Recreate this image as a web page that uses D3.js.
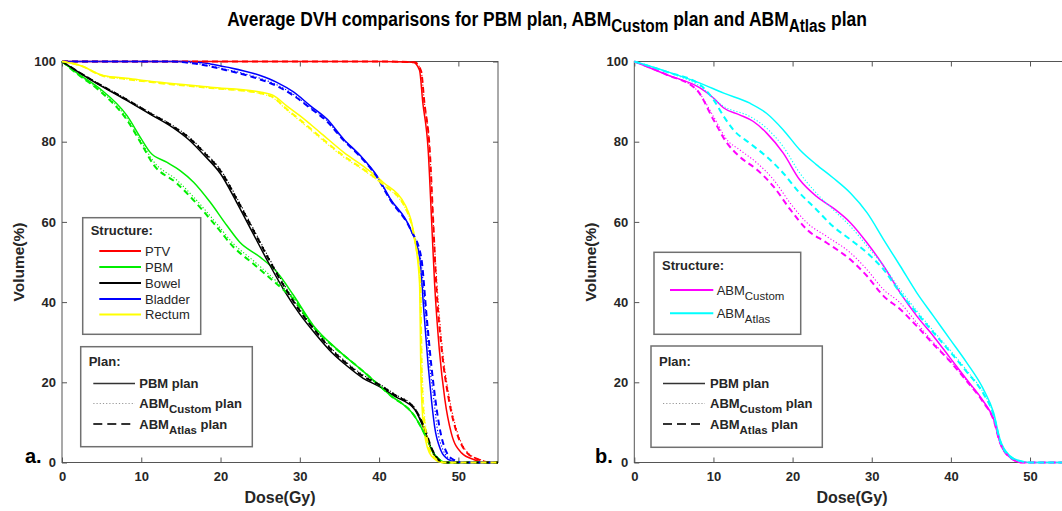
<!DOCTYPE html>
<html>
<head>
<meta charset="utf-8">
<script src="https://cdn.jsdelivr.net/npm/d3@7"></script>
<style>
  body { margin: 0; background: #fff; }
  text { font-family: "Liberation Sans", Arial, sans-serif; fill: #262626; }
</style>
</head>
<body>
<svg id="chart" width="1062" height="511"></svg>
<script>
// ---- data: [dose (Gy), volume (%)] ----
const doseTicks = [0, 10, 20, 30, 40, 50];
const volTicks = [0, 20, 40, 60, 80, 100];

// panel a: PTV
const ptvPBM = [[0,100],[40,100],[44.3,99.8],[45.1,97.8],[45.5,90],[46.2,77.6],[46.6,61.3],[47,44.7],[47.6,28.1],[48.3,15.7],[49.1,7.4],[50.4,2.4],[52,0.7],[53.5,0],[55,0]];
const ptvCustom = [[0,100],[40,100],[44.5,99.8],[45.3,97.6],[45.7,90],[46.4,77.6],[46.8,61.3],[47.3,44.7],[48,28.1],[48.9,15.7],[49.9,7.4],[51.2,2.4],[52.8,0.7],[54.3,0],[55,0]];
const ptvAtlas = [[0,100],[40,100],[44.5,99.8],[45.3,97.6],[45.7,90],[46.4,77.6],[46.8,61.3],[47.2,44.7],[47.9,28.1],[48.8,15.7],[49.8,7.4],[51.1,2.4],[52.6,0.7],[54,0],[55,0]];
// panel a: PBM
const pbmPBM = [[0,100],[2,97],[4.8,93.2],[8.2,86.5],[10,80.7],[11.1,77.4],[13.2,74.9],[14.9,72.8],[16.6,69.9],[18.7,64.9],[20.8,59.1],[22.4,55],[25,51.2],[27.1,47.5],[29.2,41.7],[31.7,34.2],[34.6,28.4],[37.6,23.4],[41.4,16.8],[44.5,11.5],[45.9,6.5],[47,2],[48.5,0],[55,0]];
const pbmCustom = [[0,100],[2,96.8],[4.8,92.8],[8.2,85.8],[10,80],[11.5,75.2],[14.5,70.4],[16.6,66.2],[19.5,59.6],[21.6,54.6],[24.1,50.4],[27.5,44.4],[29.2,41.2],[31.7,34],[34.6,28.4],[37.6,23.4],[41.4,16.8],[44.5,11.5],[45.9,6.5],[47,2],[48.5,0],[55,0]];
const pbmAtlas = [[0,100],[2,96.8],[4.8,92.6],[8.2,85.4],[10,79.5],[11.5,74.4],[14.5,69.6],[16.6,65.4],[19.5,58.8],[21.6,53.8],[24.1,49.6],[27.5,43.8],[29.2,40.8],[31.7,33.8],[34.6,28.3],[37.6,23.4],[41.4,16.8],[44.5,11.5],[45.9,6.5],[47,2],[48.5,0],[55,0]];
// panel a: Bowel
const bowelPBM = [[0,100],[4,95],[8,90.5],[11,87],[14,83.5],[16,80.5],[18,76.5],[20,72],[22,65],[24,57.5],[26,50],[28,43],[30,37],[32,32],[34,27.5],[36,24],[38,21],[40,19],[42,16.5],[44.5,13.2],[45.7,8.2],[46.6,3.2],[47.4,0.7],[48,0],[55,0]];
const bowelCustom = [[0,100],[4,95.2],[8,90.8],[11,87.4],[14,84],[16,81.2],[18,77.4],[20,73],[22,66.2],[24,58.8],[26,51.4],[28,44.4],[30,38.2],[32,33],[34,28.4],[36,24.8],[38,21.8],[40,19.6],[42,17],[44.5,13.6],[45.8,8.2],[46.7,3.2],[47.5,0.7],[48.2,0],[55,0]];
const bowelAtlas = [[0,100],[4,95.1],[8,90.7],[11,87.2],[14,83.8],[16,81],[18,77.1],[20,72.7],[22,65.8],[24,58.4],[26,51],[28,44],[30,37.8],[32,32.7],[34,28.1],[36,24.5],[38,21.5],[40,19.4],[42,16.8],[44.5,13.4],[45.8,8.2],[46.7,3.2],[47.5,0.7],[48.2,0],[55,0]];
// panel a: Bladder
const bladderPBM = [[0,100],[15.8,100],[18.7,99.4],[20.8,98.6],[25,96.5],[27.1,94.8],[29.2,92.4],[31.3,89],[33.4,85.7],[35.5,80.7],[37.6,76.6],[39.7,71.6],[41.4,65.8],[44,58],[45.1,51.3],[45.7,36.4],[46.2,24],[46.6,15.7],[47,9],[47.8,3],[48.7,0.8],[50,0],[55,0]];
const bladderCustom = [[0,100],[14,100],[17,99.5],[20.8,98],[25,95.8],[27.1,94.2],[29.2,91.8],[31.3,88.6],[33.4,85.3],[35.5,80.5],[37.6,76.4],[39.7,71.4],[41.4,65.6],[44,58],[45.2,51.3],[45.9,36.4],[46.4,24],[46.9,15.7],[47.3,9],[48.1,3],[49,0.8],[50.3,0],[55,0]];
const bladderAtlas = [[0,100],[14,100],[17,99.4],[20.8,97.8],[25,95.5],[27.1,93.9],[29.2,91.5],[31.3,88.4],[33.4,85.1],[35.5,80.4],[37.6,76.3],[39.7,71.3],[41.4,65.5],[44,58],[45.3,51.3],[46,36.4],[46.6,24],[47.1,15.7],[47.6,9],[48.4,3],[49.3,0.8],[50.6,0],[55,0]];
// panel a: Rectum
const rectumPBM = [[0,100],[2.3,99],[5.2,96.5],[8.2,95.8],[12.4,94.8],[18.7,93.6],[25,92.4],[26.7,91.5],[28.3,89],[30,86.5],[32.5,82.4],[35.5,77.4],[38.4,73.3],[40.5,69.9],[43.4,63.8],[44.5,55.5],[45.1,44.7],[45.3,19.8],[45.7,7.4],[46.6,1.6],[48,0],[55,0]];
const rectumCustom = [[0,100],[2.3,99],[5.2,96.4],[8.2,95.6],[12.4,94.6],[18.7,93.4],[25,92],[26.7,90.8],[28.3,88],[30,85.2],[32.5,81],[35.5,76.2],[38.4,72.4],[40.5,69.2],[43.4,63],[44.5,55.5],[45.2,44.7],[45.5,19.8],[46,7.4],[46.9,1.6],[48.3,0],[55,0]];
const rectumAtlas = [[0,100],[2.3,99],[5.2,96.4],[8.2,95.6],[12.4,94.6],[18.7,93.4],[25,92.1],[26.7,91],[28.3,88.2],[30,85.5],[32.5,81.3],[35.5,76.5],[38.4,72.6],[40.5,69.4],[43.4,63.2],[44.5,55.5],[45.2,44.7],[45.4,19.8],[45.9,7.4],[46.8,1.6],[48.2,0],[55,0]];

// panel b: ABM Custom structure
const custPBM = [[0,100],[4.1,96.7],[8.3,93.4],[10,90.9],[11.3,88.4],[13.3,86.7],[15,85.1],[16.7,82.2],[18.8,77.2],[20.9,70.5],[23,66.4],[25.1,63.5],[27.3,59.8],[29.4,54.8],[31.5,49],[33.6,42.3],[35.7,36.5],[37.8,31.5],[39.9,26.1],[42,20.7],[44.1,15.3],[45.4,10.8],[46.2,5],[47.5,1.2],[49,0],[55,0]];
const custCustom = [[0,100],[4.1,96.7],[7.9,92.9],[10,86.3],[11.7,80.5],[13.3,78],[15.5,74.7],[17.6,70.5],[19.7,64.7],[21.8,59.8],[24.3,56.4],[27.3,52.3],[29.4,48.1],[31.5,43.1],[33.6,39.8],[35.7,34.8],[37.8,29.9],[39.9,25.4],[42,20.4],[44.1,15.1],[45.4,10.6],[46.2,5],[47.5,1.2],[49,0],[55,0]];
const custAtlas = [[0,100],[4.1,96.7],[7.9,92.9],[10,85.5],[11.7,79.7],[13.3,76.3],[15.5,73],[17.6,68.8],[19.7,63.1],[21.8,58.1],[24.3,54.8],[27.3,50.6],[29.4,46.5],[31.5,41.5],[33.6,38.2],[35.7,34],[37.8,29.5],[39.9,25.2],[42,20.3],[44.1,15],[45.4,10.6],[46.2,5],[47.5,1.2],[49,0],[55,0]];
// panel b: ABM Atlas structure
const atlasPBM = [[0,100],[4.1,97.5],[8.3,94.6],[11.3,92.1],[14.6,89.6],[16.7,87.1],[18.8,83],[20.9,78],[23,74.3],[25.1,71],[27.3,67.2],[29.4,62.3],[31.5,55.6],[33.6,49],[35.7,42.3],[37.8,36.5],[39.9,30.7],[42,24.9],[44.1,18.3],[45.4,12.4],[46.2,5.8],[47.5,1.6],[48.7,0.4],[50,0],[55,0]];
const atlasCustom = [[0,100],[4.1,97.4],[8.3,93.8],[11.3,88.8],[14.6,86.3],[16.7,83.4],[18.8,78.8],[20.9,72.2],[23,67.2],[25.1,63.1],[27.3,58.9],[29.4,54],[31.5,49],[33.6,43.1],[35.7,37.8],[37.8,32.8],[39.9,28],[42,23],[44.1,17.4],[45.4,12],[46.2,5.6],[47.5,1.5],[48.7,0.4],[50,0],[55,0]];
const atlasAtlas = [[0,100],[4.1,97.4],[8.3,94.2],[10,90.5],[11.3,86.3],[12.5,83],[14.6,79.6],[16.7,76.3],[18.8,72.2],[20.9,67.2],[23,63.1],[25.1,58.9],[27.3,55.6],[29.4,52.3],[31.5,48.1],[33.6,42.3],[35.7,37.3],[37.8,32.4],[39.9,27.6],[42,22.6],[44.1,17.2],[45.4,11.8],[46.2,5.5],[47.5,1.4],[48.7,0.4],[50,0],[55,0]];

// ---- layout ----
const svg = d3.select("#chart");
const plotTop = 61.5, plotBottom = 462.5;

const planStyle = {
  pbm:    { dash: null,     width: 1.5 },
  custom: { dash: "1.2,2",  width: 1.1 },
  atlas:  { dash: "6,4",    width: 2 }
};

const panels = [
  {
    left: 62, right: 498, tag: "a.", tagX: 25,
    series: [
      { color: "#ff0000", pbm: ptvPBM, custom: ptvCustom, atlas: ptvAtlas },
      { color: "#00ee00", pbm: pbmPBM, custom: pbmCustom, atlas: pbmAtlas },
      { color: "#000000", pbm: bowelPBM, custom: bowelCustom, atlas: bowelAtlas },
      { color: "#0000ff", pbm: bladderPBM, custom: bladderCustom, atlas: bladderAtlas },
      { color: "#ffff00", pbm: rectumPBM, custom: rectumCustom, atlas: rectumAtlas }
    ]
  },
  {
    left: 634.3, right: 1069.6, tag: "b.", tagX: 595,
    series: [
      { color: "#ff00ff", pbm: custPBM, custom: custCustom, atlas: custAtlas },
      { color: "#00ffff", pbm: atlasPBM, custom: atlasCustom, atlas: atlasAtlas }
    ]
  }
];

// title with subscripts (narrowed horizontally to mimic a condensed face)
const titleG = svg.append("g");
const title = titleG.append("text")
  .attr("x", 0).attr("y", 26)
  .attr("text-anchor", "middle")
  .style("font-weight", "bold")
  .style("font-size", "20px")
  .style("fill", "#000");
richText(title, [["Average DVH comparisons for PBM plan, ABM"], ["Custom", 1], [" plan and ABM"], ["Atlas", 1], [" plan"]], 6);
const titleLen = title.node().getComputedTextLength();
titleG.attr("transform", `translate(547,0) scale(${640 / titleLen},1)`);

panels.forEach(p => {
  const x = d3.scaleLinear().domain([0, 55]).range([p.left, p.right]);
  const y = d3.scaleLinear().domain([0, 100]).range([plotBottom, plotTop]);
  const g = svg.append("g");

  // box + inward ticks on all sides
  g.append("rect")
    .attr("x", p.left).attr("y", plotTop)
    .attr("width", p.right - p.left).attr("height", plotBottom - plotTop)
    .attr("fill", "none").attr("stroke", "#555").attr("stroke-width", 1);

  const styleAxis = a => {
    a.select(".domain").remove();
    a.selectAll(".tick line").attr("stroke", "#555");
    a.selectAll("text")
      .style("font-family", "'Liberation Sans', Arial, sans-serif")
      .style("font-weight", "bold").style("font-size", "13px").attr("fill", "#262626");
  };
  g.append("g").attr("transform", `translate(0,${plotBottom})`)
    .call(d3.axisBottom(x).tickValues(doseTicks).tickSizeInner(-5).tickSizeOuter(0).tickPadding(9))
    .call(styleAxis);
  g.append("g").attr("transform", `translate(0,${plotTop})`)
    .call(d3.axisTop(x).tickValues(doseTicks).tickSizeInner(-5).tickSizeOuter(0).tickFormat(""))
    .call(styleAxis);
  g.append("g").attr("transform", `translate(${p.left},0)`)
    .call(d3.axisLeft(y).tickValues(volTicks).tickSizeInner(-5).tickSizeOuter(0).tickPadding(6))
    .call(styleAxis);
  g.append("g").attr("transform", `translate(${p.right},0)`)
    .call(d3.axisRight(y).tickValues(volTicks).tickSizeInner(-5).tickSizeOuter(0).tickFormat(""))
    .call(styleAxis);

  // axis titles
  g.append("text")
    .attr("x", (p.left + p.right) / 2).attr("y", 503)
    .attr("text-anchor", "middle")
    .style("font-weight", "bold").style("font-size", "16px")
    .text("Dose(Gy)");
  g.append("text")
    .attr("transform", `translate(${p.left - 38},${(plotTop + plotBottom) / 2}) rotate(-90)`)
    .attr("text-anchor", "middle")
    .style("font-weight", "bold").style("font-size", "15.5px")
    .text("Volume(%)");
  g.append("text")
    .attr("x", p.tagX).attr("y", 463)
    .style("font-weight", "bold").style("font-size", "20px")
    .style("fill", "#000")
    .text(p.tag);

  // DVH curves
  const line = d3.line()
    .x(d => x(d[0])).y(d => y(d[1]))
    .curve(d3.curveMonotoneX);
  ["pbm", "custom", "atlas"].forEach(plan => {
    p.series.forEach(s => {
      g.append("path")
        .datum(s[plan])
        .attr("d", line)
        .attr("fill", "none")
        .attr("stroke", s.color)
        .attr("stroke-width", planStyle[plan].width)
        .attr("stroke-dasharray", planStyle[plan].dash);
    });
  });
});

// ---- legends ----
const structLegendA = [
  { color: "#ff0000", parts: [["PTV"]] },
  { color: "#00ee00", parts: [["PBM"]] },
  { color: "#000000", parts: [["Bowel"]] },
  { color: "#0000ff", parts: [["Bladder"]] },
  { color: "#ffff00", parts: [["Rectum"]] }
];
const structLegendB = [
  { color: "#ff00ff", parts: [["ABM"], ["Custom", 1]] },
  { color: "#00ffff", parts: [["ABM"], ["Atlas", 1]] }
];
const planLegend = [
  { plan: "pbm", parts: [["PBM plan"]] },
  { plan: "custom", parts: [["ABM"], ["Custom", 1], [" plan"]] },
  { plan: "atlas", parts: [["ABM"], ["Atlas", 1], [" plan"]] }
];

drawLegend({ x: 82.7, y: 217.7, w: 118, h: 116.6, head: "Structure:", headY: 230,
  rows: structLegendA, rowY: [251, 267, 283, 299, 314.5], lx0: 99.3, lx1: 141, tx: 145, bold: false });
drawLegend({ x: 80.7, y: 346.7, w: 171.6, h: 100, head: "Plan:", headY: 361,
  rows: planLegend, rowY: [383.5, 403.5, 424], lx0: 93.3, lx1: 135, tx: 139.3, bold: true });
drawLegend({ x: 654, y: 252.3, w: 146.7, h: 82, head: "Structure:", headY: 265,
  rows: structLegendB, rowY: [290, 313.3], lx0: 670, lx1: 713.3, tx: 716.7, bold: false });
drawLegend({ x: 651, y: 346, w: 171.3, h: 101.3, head: "Plan:", headY: 361,
  rows: planLegend, rowY: [383.5, 403.5, 424], lx0: 663, lx1: 705, tx: 710, bold: true });

function drawLegend(o) {
  const g = svg.append("g");
  g.append("rect")
    .attr("x", o.x).attr("y", o.y).attr("width", o.w).attr("height", o.h)
    .attr("fill", "#fff").attr("stroke", "#707070").attr("stroke-width", 1.5);
  g.append("text")
    .attr("x", o.x + 8).attr("y", o.headY + 4.6)
    .style("font-weight", "bold").style("font-size", "13px")
    .text(o.head);
  o.rows.forEach((r, i) => {
    const cy = o.rowY[i];
    const st = r.plan ? planStyle[r.plan] : planStyle.pbm;
    g.append("line")
      .attr("x1", o.lx0).attr("x2", o.lx1).attr("y1", cy).attr("y2", cy)
      .attr("stroke", r.color || (r.plan === "custom" ? "#999" : "#333"))
      .attr("stroke-width", r.plan ? st.width : 2)
      .attr("stroke-dasharray", r.plan === "atlas" ? "9,5" : st.dash);
    const t = g.append("text")
      .attr("x", o.tx).attr("y", cy + 4.6)
      .style("font-weight", o.bold ? "bold" : "normal")
      .style("font-size", "13px");
    richText(t, r.parts, 5);
  });
}

// parts: [text, isSub]
function richText(t, parts, drop) {
  let low = false;
  parts.forEach(([s, sub]) => {
    const span = t.append("tspan").text(s);
    if (sub && !low) { span.attr("dy", drop).style("font-size", "0.88em"); low = true; }
    else if (sub) { span.style("font-size", "0.88em"); }
    else if (low) { span.attr("dy", -drop); low = false; }
  });
}
</script>
</body>
</html>
